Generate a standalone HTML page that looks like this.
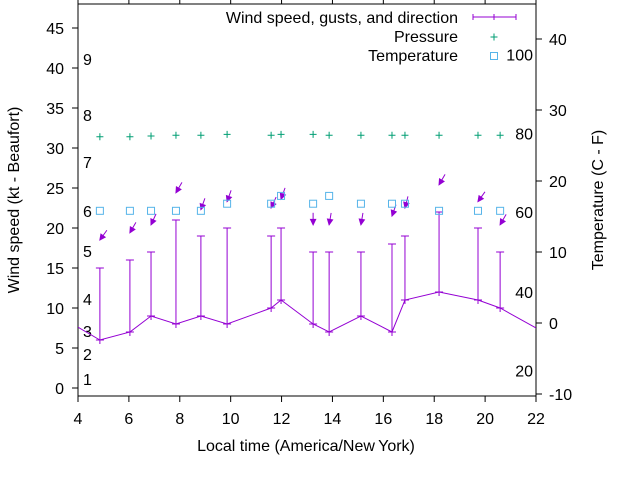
<!DOCTYPE html>
<html><head><meta charset="utf-8"><style>
body{margin:0;background:#fff}
svg{display:block;font-family:"Liberation Sans",sans-serif}
</style></head><body>
<svg id="c" width="640" height="480" viewBox="0 0 640 480"></svg>
<script>
const times=[4.86,6.04,6.87,7.85,8.83,9.86,11.59,11.98,13.24,13.87,15.12,16.34,16.85,18.19,19.72,20.59];
const speeds=[6,7,9,8,9,8,10,11,8,7,9,7,11,12,11,10];
const gusts=[15,16,17,21,19,20,19,20,17,17,17,18,19,22,20,17];
const arrowTipY=[18.5,19.4,20.4,24.4,22.3,23.3,22.5,23.6,20.4,20.4,20.4,21.5,22.5,25.4,23.3,20.4];
const arrowDx=[7,6,5,6,4,4,5,4,0,2,2,4,3,6,7,6];
const pressure=[31.4,31.4,31.5,31.6,31.6,31.7,31.6,31.7,31.7,31.6,31.6,31.6,31.6,31.6,31.6,31.6];
const tempC=[15.8,15.8,15.8,15.8,15.8,16.8,16.8,17.9,16.8,17.9,16.8,16.8,16.8,15.8,15.8,15.8];
const edgeStart=[4,7.6], edgeEnd=[22,7.5];
const xTicks=[4,6,8,10,12,14,16,18,20,22];
const yTicks=[0,5,10,15,20,25,30,35,40,45];
const y2Ticks=[-10,0,10,20,30,40];
const beaufort=[[1,1.1],[2,4.25],[3,7.1],[4,11.1],[5,17.1],[6,22.1],[7,28.25],[8,34.1],[9,41.1]];
const fahr=[[20,-6.7],[40,4.4],[60,15.6],[80,26.7],[100,37.8]];

const L=78,R=536,T=4,B=396,FS=16;
const X=v=>L+(v-4)/18*(R-L);
const Y=v=>388-v*8;
const Y2=v=>323-v*7.1;
const svg=document.getElementById('c');
const NS='http://www.w3.org/2000/svg';
function mk(tag,at,parent){const e=document.createElementNS(NS,tag);for(const k in at)e.setAttribute(k,at[k]);(parent||svg).appendChild(e);return e;}
function txt(s,x,y,anchor,name,extra){const e=mk('text',Object.assign({x:x,y:y,'font-size':FS,'text-anchor':anchor||'start',fill:'#000'},extra||{}));e.textContent=s;


return e;}

const fr=mk('rect',{x:L,y:T,width:R-L,height:B-T,fill:'none',stroke:'#000','stroke-width':1});


xTicks.forEach(t=>{const x=X(t);
 const a=mk('line',{x1:x,y1:B,x2:x,y2:B+6,stroke:'#000'});
 const b=mk('line',{x1:x,y1:T,x2:x,y2:T-4,stroke:'#000'});
 txt(String(t),x,424,'middle','x-tick-label');});
yTicks.forEach(t=>{const y=Y(t);
 const a=mk('line',{x1:L-6,y1:y,x2:L,y2:y,stroke:'#000'});
 txt(String(t),64,y+6,'end','y-tick-label');});
y2Ticks.forEach(t=>{const y=Y2(t);
 const a=mk('line',{x1:R,y1:y,x2:R+6,y2:y,stroke:'#000'});
 txt(String(t),549,y+6,'start','y2-tick-label');});
beaufort.forEach(b=>txt(String(b[0]),83,Y(b[1])+6,'start','beaufort-label'));
fahr.forEach(f=>txt(String(f[0]),533,Y2(f[1])+6,'end','fahrenheit-label'));
txt('Local time (America/New\u2009York)',306,451,'middle','x-axis-title');
txt('Wind speed (kt - Beaufort)',19,200,'middle','y-axis-title',{transform:'rotate(-90 19 200)'});
txt('Temperature (C - F)',603,200,'middle','y2-axis-title',{transform:'rotate(-90 603 200)'});

const P='#9400d3';
const cp=mk('clipPath',{id:'clip'});mk('rect',{x:L,y:T,width:R-L,height:B-T},cp);
const g=mk('g',{'clip-path':'url(#clip)'});
let pts=[[edgeStart[0],edgeStart[1]]].concat(times.map((t,i)=>[t,speeds[i]])).concat([[edgeEnd[0],edgeEnd[1]]]);
const pl=mk('polyline',{points:pts.map(p=>X(p[0])+','+Y(p[1])).join(' '),fill:'none',stroke:P,'stroke-width':1},g);


times.forEach((t,i)=>{const x=X(t),y0=Y(speeds[i]),y1=Y(gusts[i]);
 const gg=mk('g',{stroke:P,'stroke-width':1},g);
 
 
 mk('line',{x1:x,y1:y0+4,x2:x,y2:y1},gg);
 mk('line',{x1:x-4,y1:y1,x2:x+4,y2:y1},gg);
 mk('line',{x1:x-4,y1:y0,x2:x+4,y2:y0},gg);
 const ty=Y(arrowTipY[i]),dx=arrowDx[i],len=12;
 const sx=x+dx,sy=ty-Math.sqrt(Math.max(len*len-dx*dx,1));
 const ag=mk('g',{stroke:P,fill:P,'stroke-width':1},g);
 
 
 mk('line',{x1:sx,y1:sy,x2:x,y2:ty},ag);
 const ang=Math.atan2(ty-sy,x-sx),h=6,w=0.45;
 mk('polygon',{points:[[x,ty],[x-h*Math.cos(ang-w),ty-h*Math.sin(ang-w)],[x-h*Math.cos(ang+w),ty-h*Math.sin(ang+w)]].map(p=>p.join(',')).join(' ')},ag);
 const px=X(t),py=Y(pressure[i]);
 const pg=mk('path',{d:`M${px-3.5},${py}h7M${px},${py-3.5}v7`,stroke:'#009e73','stroke-width':1},g);
 
 
 const ry=Y2(tempC[i]);
 const r=mk('rect',{x:px-3.5,y:ry-3.5,width:7,height:7,fill:'none',stroke:'#56b4e9','stroke-width':1},g);
 
 
});
txt('Wind speed, gusts, and direction',458,23,'end','legend-wind-label');
const lg=mk('g',{stroke:P,'stroke-width':1});


mk('line',{x1:473,y1:17,x2:516,y2:17},lg);mk('line',{x1:473,y1:14,x2:473,y2:20},lg);mk('line',{x1:516,y1:14,x2:516,y2:20},lg);mk('line',{x1:494,y1:14,x2:494,y2:20},lg);
txt('Pressure',458,42,'end','legend-pressure-label');
const lp=mk('path',{d:'M490.5,37h7M494,33.5v7',stroke:'#009e73'});
txt('Temperature',458,61,'end','legend-temperature-label');
const lt=mk('rect',{x:490.5,y:52.5,width:7,height:7,fill:'none',stroke:'#56b4e9'});
</script>
</body></html>
